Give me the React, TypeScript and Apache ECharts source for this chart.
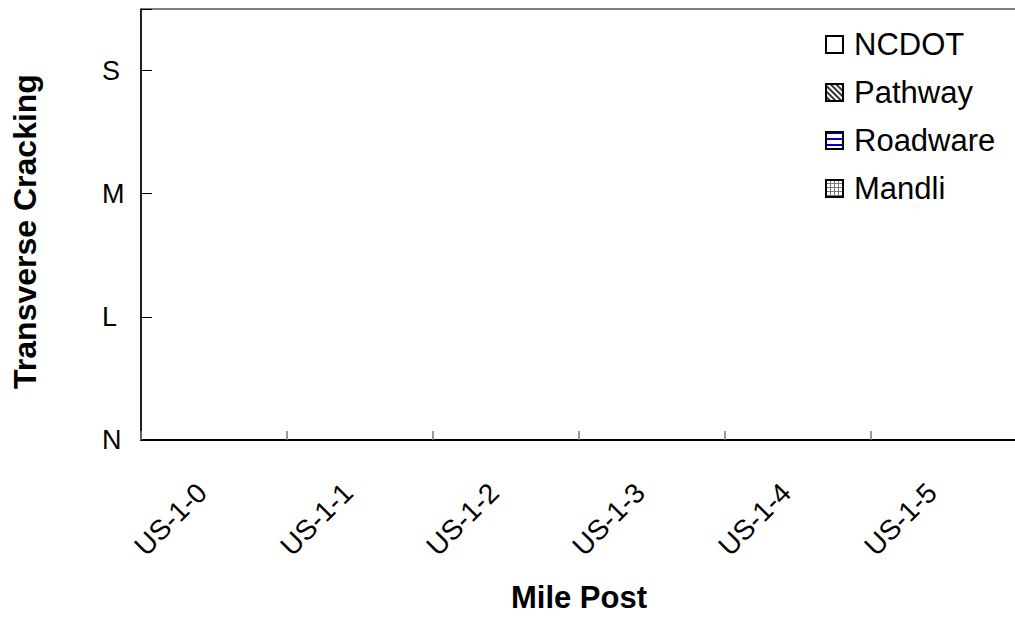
import React, { useEffect, useRef } from "react";
import * as echarts from "echarts";

const categories = ["US-1-0", "US-1-1", "US-1-2", "US-1-3", "US-1-4", "US-1-5"];
const levelLabels = ["N", "L", "M", "S"];
const ncdot = [0, 0, 0, 0, 0, 0];
const pathway = [0, 0, 0, 0, 0, 0];
const roadware = [0, 0, 0, 0, 0, 0];
const mandli = [0, 0, 0, 0, 0, 0];
const seriesNames = ["NCDOT", "Pathway", "Roadware", "Mandli"];

const FONT = "'Liberation Sans', Arial, sans-serif";

export default function App() {
  const ref = useRef<HTMLDivElement>(null);
  useEffect(() => {
    if (!ref.current) return;
    const chart = echarts.init(ref.current, undefined, { renderer: "svg" });
    const baseBar = { type: "bar", barGap: "0%", barCategoryGap: "30%" };
    chart.setOption({
      animation: false,
      backgroundColor: "#fff",
      textStyle: { fontFamily: FONT, color: "#000" },
      grid: {
        left: 141,
        top: 9,
        width: 876,
        bottom: 177,
        show: true,
        borderColor: "#000",
        borderWidth: 1,
        backgroundColor: "transparent",
        containLabel: false,
        outerBoundsMode: "none",
      },
      legend: {
        orient: "vertical",
        left: 820,
        top: 24,
        itemWidth: 17,
        itemHeight: 17,
        itemGap: 17,
        icon: "rect",
        textStyle: { fontFamily: FONT, fontSize: 31, color: "#000", lineHeight: 30, padding: [0, 0, 0, 6] },
        data: seriesNames,
      },
      xAxis: {
        type: "category",
        data: categories,
        name: "Mile Post",
        nameLocation: "middle",
        nameGap: 142,
        nameTextStyle: { fontFamily: FONT, fontSize: 31, fontWeight: "bold", color: "#000", lineHeight: 31 },
        axisLine: { lineStyle: { color: "#000", width: 2 } },
        axisTick: { show: true, interval: 0, inside: true, length: 9, lineStyle: { color: "#777", width: 1.5 } },
        axisLabel: {
          rotate: 45,
          fontSize: 28,
          fontFamily: FONT,
          color: "#000",
          margin: 36,
          interval: 0,
          padding: [0, 17, 0, 0],
        },
        splitLine: { show: false },
      },
      yAxis: {
        type: "value",
        min: 0,
        max: 3.5,
        interval: 1,
        name: "Transverse Cracking",
        nameLocation: "middle",
        nameRotate: 90,
        nameGap: 100,
        nameTextStyle: {
          fontFamily: FONT,
          fontSize: 32,
          fontWeight: "bold",
          color: "#000",
          padding: [0, 14, 0, 0],
        },
        axisLine: { show: true, lineStyle: { color: "#000", width: 1.5 } },
        axisTick: { show: true, inside: true, length: 11, lineStyle: { color: "#000", width: 1 } },
        axisLabel: {
          fontSize: 27,
          fontFamily: FONT,
          color: "#000",
          align: "left",
          margin: 39,
          formatter: (v: number) => (Number.isInteger(v) && levelLabels[v] !== undefined ? levelLabels[v] : ""),
        },
        splitLine: { show: false },
      },
      series: [
        {
          ...baseBar,
          name: "NCDOT",
          data: ncdot,
          itemStyle: { color: "#ffffff", borderColor: "#000", borderWidth: 1.5 },
        },
        {
          ...baseBar,
          name: "Pathway",
          data: pathway,
          itemStyle: {
            color: "#ffffff",
            borderColor: "#000",
            borderWidth: 1.5,
            decal: {
              symbol: "rect",
              symbolSize: 1,
              color: "#333",
              dashArrayX: [1, 0],
              dashArrayY: [1.5, 2],
              rotation: Math.PI / 4,
            },
          },
        },
        {
          ...baseBar,
          name: "Roadware",
          data: roadware,
          itemStyle: {
            color: "#ffffff",
            borderColor: "#000",
            borderWidth: 1.5,
            decal: {
              symbol: "rect",
              symbolSize: 1,
              color: "#0000cc",
              dashArrayX: [1, 0],
              dashArrayY: [1.5, 4],
              rotation: 0,
            },
          },
        },
        {
          ...baseBar,
          name: "Mandli",
          data: mandli,
          itemStyle: {
            color: "#ffffff",
            borderColor: "#000",
            borderWidth: 1.5,
            decal: {
              symbol: "rect",
              symbolSize: 1,
              color: "#777",
              dashArrayX: [[1, 0], [1, 3], [1, 3], [1, 3]],
              dashArrayY: [1, 0],
              rotation: 0,
            },
          },
        },
      ],
    });
    return () => chart.dispose();
  }, []);
  return (
    <div
      ref={ref}
      style={{ position: "fixed", left: 0, top: 0, width: 1015, height: 617, background: "#fff" }}
    />
  );
}
